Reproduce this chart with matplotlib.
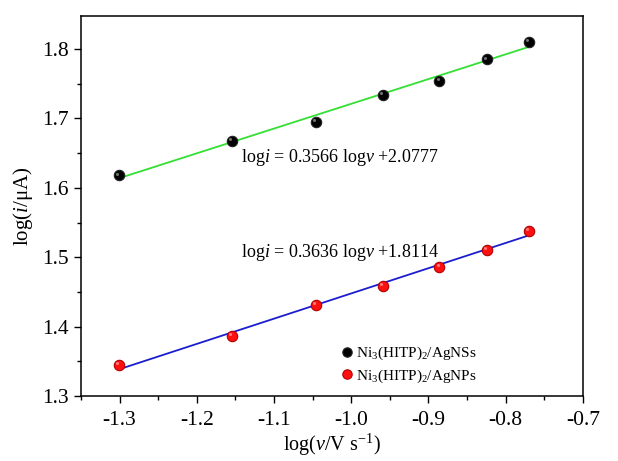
import matplotlib
matplotlib.use("Agg")
import matplotlib.pyplot as plt
import matplotlib.transforms as mtransforms
import numpy as np
from matplotlib.ticker import MultipleLocator

# log of scan rate (V/s)
log_v = [-1.301, -1.155, -1.046, -0.959, -0.886, -0.824, -0.770]

# log of peak current (uA)
log_i_ns = [1.618, 1.668, 1.695, 1.734, 1.754, 1.785, 1.810]
log_i_np = [1.345, 1.387, 1.431, 1.459, 1.486, 1.511, 1.538]

# fitted lines shown in the chart
fit_ns = (0.3566, 2.0777)
fit_np = (0.3636, 1.8114)

labels = [r'Ni$_3$(HITP)$_2$/AgNSs', r'Ni$_3$(HITP)$_2$/AgNPs']

plt.rcParams['font.family'] = ['Liberation Serif', 'DejaVu Serif']
plt.rcParams['mathtext.fontset'] = 'custom'
plt.rcParams['mathtext.rm'] = 'Liberation Serif'
plt.rcParams['mathtext.it'] = 'Liberation Serif:italic'
plt.rcParams['mathtext.bf'] = 'Liberation Serif:bold'


def sphere(ax, x, y, color, edge, label):
    ax.plot(x, y, 'o', ms=7.5, color=color, mec=edge, mew=0.8, zorder=4, label=label)
    # small highlight to mimic the shaded balls
    off = mtransforms.offset_copy(ax.transData, fig=ax.figure, x=-1.2, y=1.2, units='points')
    ax.plot(x, y, 'o', ms=2.2, color='white', alpha=0.45, mew=0, transform=off, zorder=5)


fig = plt.figure(figsize=(6.18, 4.61), dpi=100)
ax = fig.add_axes([0.131, 0.141, 0.812, 0.824])

x = np.array(log_v)
ax.plot(x, fit_ns[0] * x + fit_ns[1], color='#33e033', lw=1.3, zorder=3)
ax.plot(x, fit_np[0] * x + fit_np[1], color='#1c1cd0', lw=1.3, zorder=3)

sphere(ax, log_v, log_i_ns, 'black', '#222222', labels[0])
sphere(ax, log_v, log_i_np, '#ff1010', '#b00000', labels[1])

ax.text(-1.143, 1.644, r'log$i$ = 0.3566 log$v$ +2.0777', fontsize=13, va='center')
ax.text(-1.143, 1.5075, r'log$i$ = 0.3636 log$v$ +1.8114', fontsize=13, va='center')

ax.set_xlim(-1.35, -0.7)
ax.set_ylim(1.3, 1.8475)
ax.xaxis.set_minor_locator(MultipleLocator(0.05))
ax.yaxis.set_minor_locator(MultipleLocator(0.05))
ax.set_xticks(np.arange(-1.3, -0.69, 0.1))
ax.set_xticklabels(['-1.3', '-1.2', '-1.1', '-1.0', '-0.9', '-0.8', '-0.7'])
ax.set_yticks(np.arange(1.3, 1.81, 0.1))
ax.set_yticklabels(['1.3', '1.4', '1.5', '1.6', '1.7', '1.8'])
ax.tick_params(which='major', direction='out', length=5, width=1, labelsize=15.5)
ax.tick_params(axis='x', which='major', pad=6)
ax.tick_params(which='minor', direction='out', length=3, width=1)
for s in ax.spines.values():
    s.set_linewidth(1.1)

ax.set_xlabel(r'log($v$/V s$^{-1}$)', fontsize=14.5, labelpad=1)
ax.set_ylabel(r'log($i$/$\mathrm{\mu}$A)', fontsize=15, labelpad=5)

ax.legend(loc='lower right', bbox_to_anchor=(0.816, -0.007), frameon=False,
          fontsize=11, handletextpad=0.1, labelspacing=0.35, handlelength=1.0,
          markerscale=0.9)

fig.savefig('out.png', dpi=100)
